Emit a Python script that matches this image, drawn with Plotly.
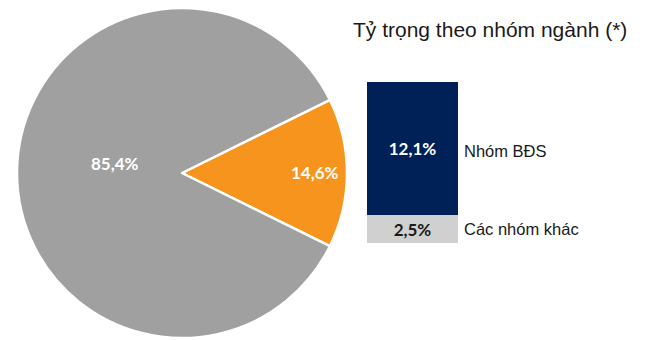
import plotly.graph_objects as go

# Pie data
pie_labels = ["Nhóm BĐS và khác", "Còn lại"]
pie_values = [14.6, 85.4]
pie_colors = ["#F7941D", "#A0A0A0"]
# label anchor positions for pie labels (paper px) as in reference
pie_label_pos = [(315, 172), (115, 163)]

# Stacked bar data (bottom -> top)
bar_names = ["Các nhóm khác", "Nhóm BĐS"]
bar_values = [2.5, 12.1]
bar_colors = ["#D0D0D0", "#002157"]
bar_text_colors = ["#1A1A1A", "#FFFFFF"]

title_text = "Tỷ trọng theo nhóm ngành (*)"

W, H = 645, 340


def fmt(v):
    return f"{v:.1f}".replace(".", ",") + "%"


fig = go.Figure()

fig.add_trace(go.Pie(
    labels=pie_labels,
    values=pie_values,
    sort=False,
    direction="clockwise",
    rotation=90 - pie_values[0] / 100 * 360 / 2,
    marker=dict(colors=pie_colors, line=dict(color="white", width=2.5)),
    textinfo="none",
    domain=dict(x=[17 / W, 347 / W], y=[1 - 338 / H, 1 - 8 / H]),
    showlegend=False,
    hoverinfo="skip",
))

for v, (px, py) in zip(pie_values, pie_label_pos):
    fig.add_annotation(
        x=px / W, y=1 - py / H, xref="paper", yref="paper",
        text=fmt(v), showarrow=False, xanchor="center", yanchor="middle",
        font=dict(family="Lato", size=17, color="white", weight="bold"),
    )

for name, v, c, tc in zip(bar_names, bar_values, bar_colors, bar_text_colors):
    fig.add_trace(go.Bar(
        x=[0], y=[v], width=1,
        marker=dict(color=c, line=dict(width=0)),
        text=[fmt(v)], textposition="inside", insidetextanchor="middle",
        textfont=dict(family="Lato", size=17, color=tc, weight="bold"),
        textangle=0,
        showlegend=False, hoverinfo="skip",
    ))

# Side labels for bar segments
cum = 0
for name, v in zip(bar_names, bar_values):
    fig.add_annotation(
        x=0.5, y=cum + v / 2, xref="x", yref="y",
        text=name, showarrow=False, xanchor="left", xshift=4,
        yshift=-2 if v > 5 else 0,
        font=dict(family="Liberation Sans", size=16.5, color="#1A1A1A"),
    )
    cum += v

fig.add_annotation(
    x=351 / W, y=1 - 29 / H, xref="paper", yref="paper",
    text=title_text, showarrow=False, xanchor="left", yanchor="middle",
    font=dict(family="Liberation Sans", size=21, color="#1A1A1A"),
)

fig.update_layout(
    width=W, height=H,
    margin=dict(l=0, r=0, t=0, b=0),
    paper_bgcolor="white", plot_bgcolor="white",
    barmode="stack", bargap=0,
    xaxis=dict(domain=[367 / W, 458 / W], range=[-0.5, 0.5],
               visible=False, fixedrange=True),
    yaxis=dict(domain=[1 - 243 / H, 1 - 82 / H], range=[0, sum(bar_values)],
               visible=False, fixedrange=True),
)

fig.write_html("out.html")
